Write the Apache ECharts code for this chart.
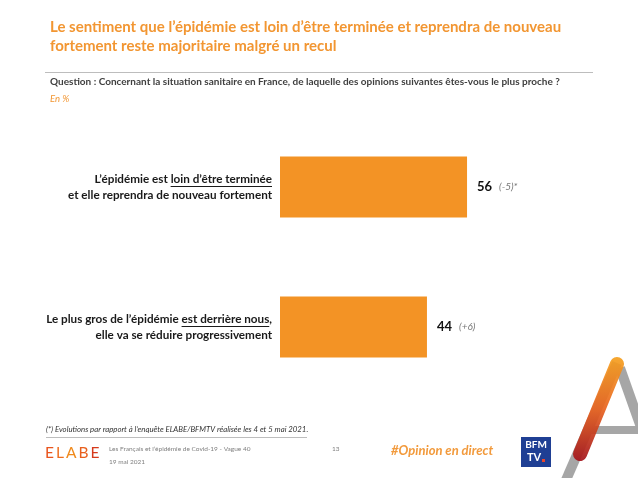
<!DOCTYPE html>
<html><head><meta charset="utf-8">
<script src="https://cdn.jsdelivr.net/npm/echarts@6/dist/echarts.min.js"></script>
<style>html,body{margin:0;padding:0;background:#fff}#c{width:638px;height:478px}</style>
</head><body><div id="c"></div>
<script>
const categories = [
  "L’épidémie est loin d’être terminée\net elle reprendra de nouveau fortement",
  "Le plus gros de l’épidémie est derrière nous,\nelle va se réduire progressivement"
];
const values = [56, 44];
const evolutions = ["(-5)*", "(+6)"];
const underlined = ["loin d’être terminée", "est derrière nous"];

const ORANGE = '#F39325';
const TITLE_ORANGE = '#F29632';
const FONT = 'Lato';
const LABEL_SIZE = 11.7;
const chart = echarts.init(document.getElementById('c'), null, {renderer: 'canvas'});

function letter(color, pad) {
  return {fill: color, fontSize: 15.5, fontFamily: FONT, fontWeight: 'normal', padding: [0, pad, 0, 0]};
}

const option = {
  backgroundColor: '#fff',
  animation: false,
  grid: {left: 280, right: 24, top: 117, bottom: 81},
  xAxis: {type: 'value', min: 0, max: 100, show: false},
  yAxis: {
    type: 'category', inverse: true, data: categories,
    axisLine: {show: false}, axisTick: {show: false},
    axisLabel: {
      margin: 8, color: '#1a1a1a', fontFamily: FONT, fontWeight: 'bold',
      fontSize: LABEL_SIZE, lineHeight: 16, align: 'right'
    }
  },
  series: [{
    type: 'bar', barWidth: 61,
    data: values.map((v, i) => ({value: v, evo: evolutions[i]})),
    itemStyle: {color: ORANGE},
    label: {
      show: true, position: 'right', distance: 10,
      formatter: p => '{v|' + p.value + '}{d|' + p.data.evo + '}',
      rich: {
        v: {fontFamily: FONT, fontWeight: 'bold', fontSize: 13, color: '#111', padding: [0, 7, 0, 0]},
        d: {fontFamily: FONT, fontStyle: 'italic', fontSize: 10, color: '#777'}
      }
    }
  }],
  graphic: [
    {type: 'text', left: 50, top: 17, style: {text: 'Le sentiment que l’épidémie est loin d’être terminée et reprendra de nouveau\nfortement reste majoritaire malgré un recul', fill: TITLE_ORANGE, font: 'bold 15px ' + FONT, lineHeight: 19.5}},
    {type: 'line', shape: {x1: 45, y1: 72.5, x2: 593, y2: 72.5}, style: {stroke: '#BDBDBD', lineWidth: 1}},
    {type: 'text', left: 50, top: 77, style: {text: 'Question : Concernant la situation sanitaire en France, de laquelle des opinions suivantes êtes-vous le plus proche ?', fill: '#404040', font: 'bold 10px ' + FONT}},
    {type: 'text', left: 50, top: 94, style: {text: 'En %', fill: TITLE_ORANGE, font: 'italic 9.5px ' + FONT}},
    {type: 'text', left: 46, top: 425, style: {text: '(*) Evolutions par rapport à l’enquête ELABE/BFMTV réalisée les 4 et 5 mai 2021.', fill: '#333', font: 'italic 7.8px ' + FONT}},
    {type: 'line', shape: {x1: 46, y1: 437.5, x2: 307, y2: 437.5}, style: {stroke: '#BDBDBD', lineWidth: 1}},
    {type: 'text', left: 45, top: 445, style: {
      text: '{a|E}{b|L}{c|A}{d|B}{e|E}',
      rich: {
        a: letter('#E9541D', 2), b: letter('#EE6E1E', 2), c: letter('#F08A1C', 2),
        d: letter('#E8601E', 2), e: letter('#D63A1C', 0)
      }
    }},
    {type: 'text', left: 109, top: 445, style: {text: 'Les Français et l’épidémie de Covid-19 - Vague 40', fill: '#808080', font: '6.5px ' + FONT}},
    {type: 'text', left: 109, top: 458, style: {text: '19 mai 2021', fill: '#808080', font: '6.5px ' + FONT}},
    {type: 'text', left: 332, top: 445, style: {text: '13', fill: '#808080', font: '6.5px ' + FONT}},
    {type: 'text', left: 391, top: 444, style: {text: '#Opinion en direct', fill: '#F29A3C', font: 'italic bold 13px ' + FONT}},
    // BFM TV logo
    {type: 'rect', shape: {x: 521, y: 437, width: 30, height: 30}, style: {fill: '#1F3F94'}},
    {type: 'text', x: 536, y: 445, style: {text: 'BFM', fill: '#fff', font: 'bold 10px ' + FONT, align: 'center', verticalAlign: 'middle'}},
    {type: 'text', x: 534, y: 457, style: {text: 'TV', fill: '#fff', font: 'bold 11px ' + FONT, align: 'center', verticalAlign: 'middle'}},
    {type: 'rect', shape: {x: 542, y: 459, width: 3, height: 3}, style: {fill: '#E8452C'}},
    // decorative A
    {type: 'line', shape: {x1: 617, y1: 363, x2: 566, y2: 480}, style: {stroke: '#A6A6A6', lineWidth: 10}},
    {type: 'line', shape: {x1: 620, y1: 368, x2: 642, y2: 430}, style: {stroke: '#A6A6A6', lineWidth: 10}},
    {type: 'rect', shape: {x: 588, y: 426, width: 50, height: 8}, style: {fill: '#A6A6A6'}},
    {type: 'line', shape: {x1: 617, y1: 364, x2: 580, y2: 454}, style: {lineCap: 'round', lineWidth: 14, opacity: 0.92, stroke: new echarts.graphic.LinearGradient(0, 0, 0, 1, [{offset: 0, color: '#F5A01E'}, {offset: 0.5, color: '#E8621E'}, {offset: 1, color: '#A3121A'}])}}
  ]
};
chart.setOption(option);

// underline emphasised parts of category labels
(function () {
  const ctx = document.createElement('canvas').getContext('2d');
  ctx.font = 'bold ' + LABEL_SIZE + 'px ' + FONT;
  const right = 272;
  const g = [];
  categories.forEach((cat, i) => {
    const cy = chart.convertToPixel({yAxisIndex: 0}, i);
    const line1 = cat.split('\n')[0];
    const seg = underlined[i];
    const idx = line1.indexOf(seg);
    const after = line1.slice(idx + seg.length);
    const wAfter = ctx.measureText(after).width;
    const wSeg = ctx.measureText(seg).width;
    const y = Math.round(cy - 8 + 6.5) + 0.5;
    g.push({type: 'line', shape: {x1: right - wAfter - wSeg, y1: y, x2: right - wAfter, y2: y}, style: {stroke: '#1a1a1a', lineWidth: 1}});
  });
  chart.setOption({graphic: option.graphic.concat(g)});
})();
</script>
</body></html>
